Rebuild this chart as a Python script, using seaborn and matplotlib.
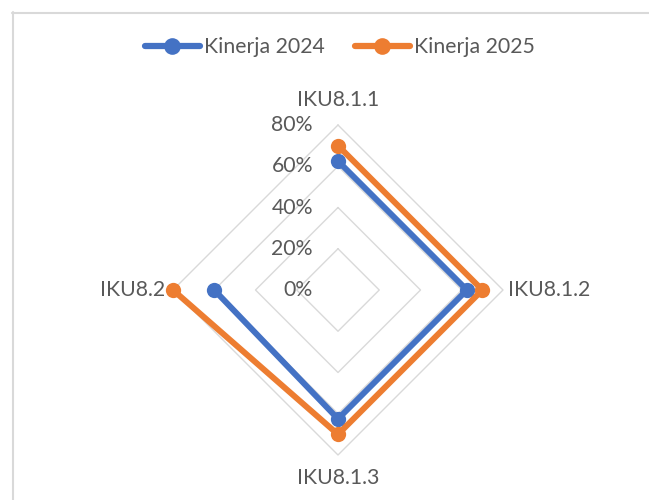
import numpy as np
import pandas as pd
import matplotlib
matplotlib.use("Agg")
import matplotlib.pyplot as plt
import matplotlib.transforms as mtransforms
from matplotlib.lines import Line2D
import seaborn as sns

categories = ["IKU8.1.1", "IKU8.1.2", "IKU8.1.3", "IKU8.2"]
kinerja_2024 = [62.5, 62.5, 62.5, 60.0]
kinerja_2025 = [70.0, 70.0, 70.0, 80.0]
series_names = ["Kinerja 2024", "Kinerja 2025"]
tick_values = [0, 20, 40, 60, 80]
tick_labels = ["0%", "20%", "40%", "60%", "80%"]

sns.set_theme(style="white")
plt.rcParams["font.family"] = ["Lato", "DejaVu Sans"]

BLUE = "#4472C4"
ORANGE = "#ED7D31"
GRID = "#D9D9D9"
TXT = "#595959"
FS = 15.3

W, H = 649, 500
fig = plt.figure(figsize=(W / 100, H / 100), dpi=100)
cx, cy, R = 338, 290, 165
ax = fig.add_axes([(cx - R) / W, (H - cy - R) / H, 2 * R / W, 2 * R / H], projection="polar")
ax.set_theta_offset(np.pi / 2)
ax.set_theta_direction(-1)
ax.set_ylim(0, 80)

n = len(categories)
theta = [2 * np.pi * i / n for i in range(n)]
theta_closed = theta + [theta[0]]

# polygon grid
for v in tick_values[1:]:
    ax.plot(theta_closed, [v] * (n + 1), color=GRID, lw=1.0, zorder=1)

rows = []
for name, vals in zip(series_names, [kinerja_2024, kinerja_2025]):
    for t, v in zip(theta_closed, vals + [vals[0]]):
        rows.append({"theta": t, "value": v, "series": name})
df = pd.DataFrame(rows)

sns.lineplot(data=df, x="theta", y="value", hue="series", hue_order=series_names,
             palette=[BLUE, ORANGE], sort=False, marker="o", markersize=11,
             markeredgewidth=0, linewidth=4.3, ax=ax, legend=False, zorder=3)
for ln in ax.lines:
    ln.set_clip_on(False)

ax.grid(False)
ax.spines["polar"].set_visible(False)
ax.set_xticks([])
ax.set_yticks([])
ax.set_xlabel("")
ax.set_ylabel("")
ax.set_facecolor("none")

# radial tick labels
off = mtransforms.offset_copy(ax.transData, fig=fig, x=-25, y=0, units="dots")
for v, lab in zip(tick_values, tick_labels):
    ax.text(0, v, lab, transform=off, ha="right", va="center", fontsize=FS, color=TXT, zorder=5)

# category labels
label_r = [92, 82.4, 91, 83.9]
has = ["center", "left", "center", "right"]
for t, lab, r, ha in zip(theta, categories, label_r, has):
    ax.text(t, r, lab, ha=ha, va="center", fontsize=FS, color=TXT, clip_on=False)

handles = [Line2D([], [], color=c, lw=4.5, marker="o", markersize=12, markeredgewidth=0)
           for c in [BLUE, ORANGE]]
fig.legend(handles, series_names, loc="center", bbox_to_anchor=(340 / W, 1 - 47 / H),
           ncol=2, frameon=False, fontsize=FS, labelcolor=TXT, handlelength=2.6,
           handletextpad=0.2, columnspacing=1.4)

# chart-area frame (top and left edges visible)
fig.add_artist(Line2D([12 / W, 1], [1 - 12.5 / H, 1 - 12.5 / H], transform=fig.transFigure,
                      color=GRID, lw=1.5))
fig.add_artist(Line2D([12.5 / W, 12.5 / W], [0, 1 - 12 / H], transform=fig.transFigure,
                      color=GRID, lw=1.5))

fig.savefig("out.png", dpi=100, facecolor="white")
